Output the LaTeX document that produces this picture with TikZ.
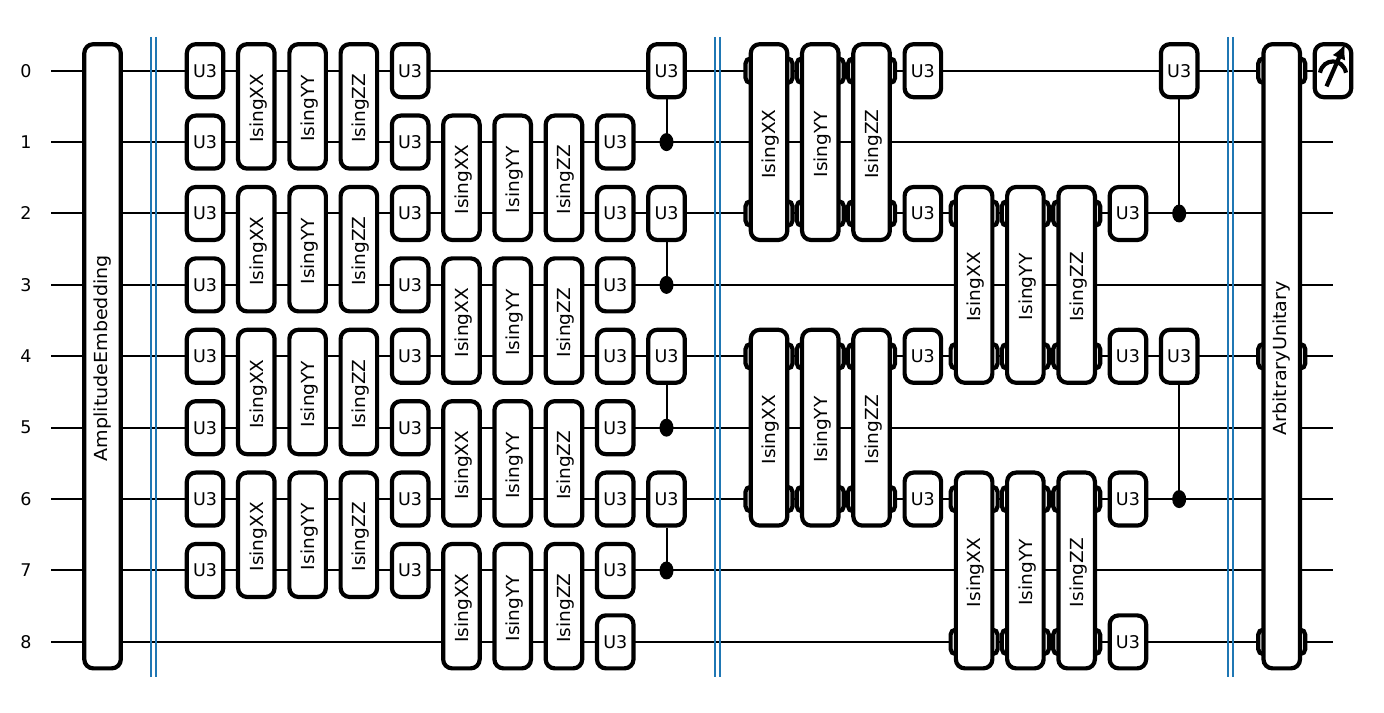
\documentclass[tikz,border=0pt]{standalone}
\usepackage{fontspec}
\setmainfont{DejaVu Sans}
\newfontfamily\isingfont[FakeStretch=1.03]{DejaVu Sans}
\newfontfamily\longfont[FakeStretch=1.06]{DejaVu Sans}
\definecolor{BarrierBlue}{HTML}{1F77B4}
\usetikzlibrary{shapes.geometric, arrows.meta, positioning}
\tikzset{
  gatebox/.style={rectangle, rounded corners=9pt, draw=black, fill=white, line width=4.2pt, inner sep=0pt, font=\fontsize{17.5}{20}\selectfont, align=center},
  ubox/.style={gatebox, minimum width=36.5pt, minimum height=53pt},
  spanbox/.style={gatebox, rotate=90, minimum height=36.5pt, minimum width=#1*71.4pt+53pt, execute at end node=\hspace*{4pt}},
  isingbox/.style={spanbox=#1, font=\fontsize{18}{20}\selectfont\isingfont, text depth=0pt},
  longbox/.style={spanbox=8, font=\fontsize{18}{20}\selectfont\longfont},
  stubbox/.style={rectangle, rounded corners=5pt, draw=black, fill=white, line width=4.2pt, inner sep=0pt, minimum width=47pt, minimum height=24.5pt},
  ctrldot/.style={ellipse, fill=black, inner sep=0pt, minimum width=14pt, minimum height=18pt},
  wirelabel/.style={font=\fontsize{17.5}{20}\selectfont, inner sep=0pt},
  wire/.style={draw=black, line width=2pt},
  ctrlline/.style={draw=black, line width=2pt},
  barrier/.style={draw=BarrierBlue, line width=2pt}
}
\begin{document}
\begin{tikzpicture}[x=51.27pt, y=-71.4pt]
  \useasboundingbox (0,-0.990) rectangle (26.995,8.996);

  \foreach \w in {0,...,8} {
    \node[wirelabel] (q\w) at (0.507,\w) {\w};
    \coordinate (wl\w) at (1,\w);
    \coordinate (wr\w) at (26,\w);
    \draw[wire] (wl\w) -- (wr\w);
  }
  \foreach \x in {3,14,24} {
    \foreach \n/\s in {l/-2.5,r/2.5} {
      \coordinate (bt\x\n) at ([xshift=\s pt]\x,-0.472);
      \coordinate (bb\x\n) at ([xshift=\s pt]\x,8.495);
      \draw[barrier] (bt\x\n) -- (bb\x\n);
    }
  }

  \node[longbox] (embed) at (2,4) {AmplitudeEmbedding};

  \foreach \w in {0,...,7} {
    \node[ubox] (ua\w) at (4,\w) {U3};
    \node[ubox] (ub\w) at (8,\w) {U3};
  }
  \foreach \w in {1,...,8} {
    \node[ubox] (uc\w) at (12,\w) {U3};
  }
  \foreach \x/\t in {5/XX,6/YY,7/ZZ} {
    \foreach \w in {0,2,4,6} {
      \node[isingbox=1] (i\x-\w) at (\x,\w+0.5) {Ising\t};
    }
  }
  \foreach \x/\t in {9/XX,10/YY,11/ZZ} {
    \foreach \w in {1,3,5,7} {
      \node[isingbox=1] (i\x-\w) at (\x,\w+0.5) {Ising\t};
    }
  }

  \foreach \x/\t/\c in {13/0/1, 13/2/3, 13/4/5, 13/6/7, 23/0/2, 23/4/6} {
    \node[ubox] (uc\x-\t) at (\x,\t) {U3};
    \node[ctrldot] (dot\x-\c) at (\x,\c) {};
    \draw[ctrlline] (uc\x-\t.south) -- (dot\x-\c.center);
  }

  \foreach \x/\t/\y in {15/XX/0, 16/YY/0, 17/ZZ/0, 15/XX/4, 16/YY/4, 17/ZZ/4, 19/XX/2, 20/YY/2, 21/ZZ/2, 19/XX/6, 20/YY/6, 21/ZZ/6} {
    \pgfmathtruncatemacro{\v}{\y+2}
    \node[stubbox] (st\x-\y) at (\x,\y) {};
    \node[stubbox] (st\x-\v) at (\x,\v) {};
  }
  \foreach \x/\t/\y in {15/XX/0, 16/YY/0, 17/ZZ/0, 15/XX/4, 16/YY/4, 17/ZZ/4, 19/XX/2, 20/YY/2, 21/ZZ/2, 19/XX/6, 20/YY/6, 21/ZZ/6} {
    \node[isingbox=2] (i\x-\y) at (\x,\y+1) {Ising\t};
  }
  \foreach \w in {0,2,4,6} {
    \node[ubox] (ud\w) at (18,\w) {U3};
  }
  \foreach \w in {2,4,6,8} {
    \node[ubox] (ue\w) at (22,\w) {U3};
  }

  \foreach \w in {0,4,8} {
    \node[stubbox] (st25-\w) at (25,\w) {};
  }
  \node[longbox] (unitary) at (25,4) {ArbitraryUnitary};

  \node[ubox] (meas) at (26,0) {};
  \draw[line width=4.2pt] ([shift={(-13pt,-2pt)}]meas.center) .. controls ([shift={(-10pt,13pt)}]meas.center) and ([shift={(10pt,13pt)}]meas.center) .. ([shift={(13pt,-2pt)}]meas.center);
  \draw[line width=4.2pt, -{Latex[length=15pt,width=14pt]}] ([shift={(-6.5pt,-15.7pt)}]meas.center) -- ([shift={(12pt,26.7pt)}]meas.center);
\end{tikzpicture}
\end{document}
